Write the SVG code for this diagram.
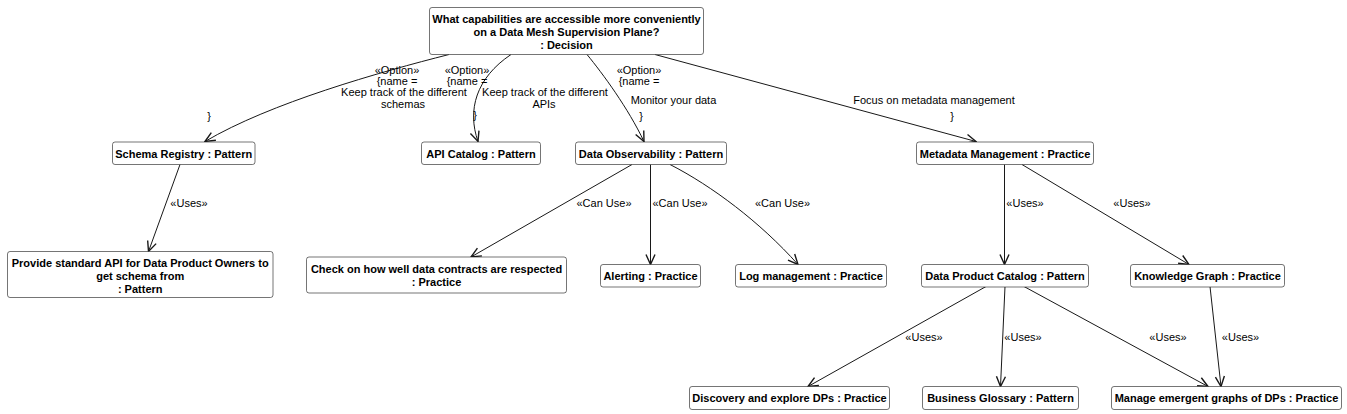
<svg xmlns="http://www.w3.org/2000/svg" width="1347" height="414" viewBox="0 0 1347 414">
<style>
.box{fill:#ffffff;stroke:#181818;stroke-width:0.6}
.nt{font-family:"Liberation Sans",Arial,sans-serif;font-size:11px;font-weight:bold;fill:#000;text-anchor:middle}
.lt{font-family:"Liberation Sans",Arial,sans-serif;font-size:11px;fill:#000;text-anchor:middle}
.e{fill:none;stroke:#181818;stroke-width:1;marker-end:url(#arr)}
</style>
<defs>
<marker id="arr" viewBox="0 0 12 12" refX="11" refY="6" markerWidth="12" markerHeight="12" orient="auto" markerUnits="userSpaceOnUse">
<path d="M1,1.5 L11,6 L1,10.5" fill="none" stroke="#181818" stroke-width="1.4"/>
</marker>
</defs>
<rect width="1347" height="414" fill="#ffffff"/>

<g id="connectors">
<path class="e" d="M449,54.5 C380,72 270,103 205,141.5"/>
<path class="e" d="M511,54.5 C476,78 467,110 478,141.5"/>
<path class="e" d="M587,54.5 C603,74 628,108 644,141.5"/>
<path class="e" d="M655,54.5 L976,141.5"/>
<path class="e" d="M180,164.5 L148.5,251.5"/>
<path class="e" d="M632,164.5 L471,257"/>
<path class="e" d="M650.5,164.5 L650.5,264.5"/>
<path class="e" d="M670,164.5 C712,186 760,222 798,264.5"/>
<path class="e" d="M1004.5,164.5 L1004.5,264.5"/>
<path class="e" d="M1022,164.5 L1189,264.5"/>
<path class="e" d="M986,286.5 L808,386.5"/>
<path class="e" d="M1005,286.5 L1000.5,386.5"/>
<path class="e" d="M1024,286.5 L1208,386.5"/>
<path class="e" d="M1210,286.5 L1221,386.5"/>
<g id="edge-labels">
<text class="lt" x="397" y="74">«Option»</text>
<text class="lt" x="397" y="85">{name =</text>
<text class="lt" x="404" y="96">Keep track of the different</text>
<text class="lt" x="403" y="108">schemas</text>
<text class="lt" x="209" y="120">}</text>
<text class="lt" x="467" y="74">«Option»</text>
<text class="lt" x="467" y="85">{name =</text>
<text class="lt" x="545" y="96">Keep track of the different</text>
<text class="lt" x="544" y="108">APIs</text>
<text class="lt" x="475" y="119">}</text>
<text class="lt" x="639" y="74">«Option»</text>
<text class="lt" x="639" y="85">{name =</text>
<text class="lt" x="673.5" y="104">Monitor your data</text>
<text class="lt" x="641" y="120">}</text>
<text class="lt" x="934" y="104">Focus on metadata management</text>
<text class="lt" x="952" y="120">}</text>
<text class="lt" x="189" y="206.5">«Uses»</text>
<text class="lt" x="604" y="206.5">«Can Use»</text>
<text class="lt" x="680" y="206.5">«Can Use»</text>
<text class="lt" x="782.5" y="206.5">«Can Use»</text>
<text class="lt" x="1025" y="206.5">«Uses»</text>
<text class="lt" x="1132" y="206.5">«Uses»</text>
<text class="lt" x="924" y="341">«Uses»</text>
<text class="lt" x="1023" y="341">«Uses»</text>
<text class="lt" x="1168" y="341">«Uses»</text>
<text class="lt" x="1240.5" y="341">«Uses»</text>
</g>
</g>

<g id="decision">
<rect class="box" x="429.5" y="7.5" width="274" height="47" rx="2.5"/>
<text class="nt" x="566.5" y="23">What capabilities are accessible more conveniently</text>
<text class="nt" x="566.5" y="36">on a Data Mesh Supervision Plane?</text>
<text class="nt" x="566.5" y="49">: Decision</text>
</g>
<g id="schema-registry">
<rect class="box" x="112.5" y="142" width="142.5" height="22.5" rx="2.5"/>
<text class="nt" x="183.7" y="157.5">Schema Registry : Pattern</text>
</g>
<g id="api-catalog">
<rect class="box" x="421.5" y="142" width="119" height="22.5" rx="2.5"/>
<text class="nt" x="481" y="157.5">API Catalog : Pattern</text>
</g>
<g id="data-observability">
<rect class="box" x="575.5" y="142" width="151" height="22.5" rx="2.5"/>
<text class="nt" x="651" y="157.5">Data Observability : Pattern</text>
</g>
<g id="metadata-management">
<rect class="box" x="916.5" y="142" width="177" height="22.5" rx="2.5"/>
<text class="nt" x="1005" y="157.5">Metadata Management : Practice</text>
</g>
<g id="provide-standard-api">
<rect class="box" x="7.5" y="251.5" width="265.5" height="46" rx="2.5"/>
<text class="nt" x="140.2" y="267">Provide standard API for Data Product Owners to</text>
<text class="nt" x="140.2" y="280">get schema from</text>
<text class="nt" x="140.2" y="293">: Pattern</text>
</g>
<g id="check-contracts">
<rect class="box" x="306.5" y="257" width="260" height="36" rx="2.5"/>
<text class="nt" x="436.5" y="273">Check on how well data contracts are respected</text>
<text class="nt" x="436.5" y="286">: Practice</text>
</g>
<g id="alerting">
<rect class="box" x="600.5" y="264.5" width="100" height="22.5" rx="2.5"/>
<text class="nt" x="650.5" y="280">Alerting : Practice</text>
</g>
<g id="log-management">
<rect class="box" x="735.5" y="264.5" width="151" height="22.5" rx="2.5"/>
<text class="nt" x="811" y="280">Log management : Practice</text>
</g>
<g id="data-product-catalog">
<rect class="box" x="921.5" y="264.5" width="167" height="22.5" rx="2.5"/>
<text class="nt" x="1005" y="280">Data Product Catalog : Pattern</text>
</g>
<g id="knowledge-graph">
<rect class="box" x="1130.5" y="264.5" width="154" height="22.5" rx="2.5"/>
<text class="nt" x="1207.5" y="280">Knowledge Graph : Practice</text>
</g>
<g id="discovery">
<rect class="box" x="689.5" y="386.5" width="200" height="23" rx="2.5"/>
<text class="nt" x="789.5" y="402">Discovery and explore DPs : Practice</text>
</g>
<g id="business-glossary">
<rect class="box" x="922.5" y="386.5" width="156" height="23" rx="2.5"/>
<text class="nt" x="1000.5" y="402">Business Glossary : Pattern</text>
</g>
<g id="manage-emergent">
<rect class="box" x="1111.5" y="386.5" width="230" height="23" rx="2.5"/>
<text class="nt" x="1226.5" y="402">Manage emergent graphs of DPs : Practice</text>
</g>
</svg>
